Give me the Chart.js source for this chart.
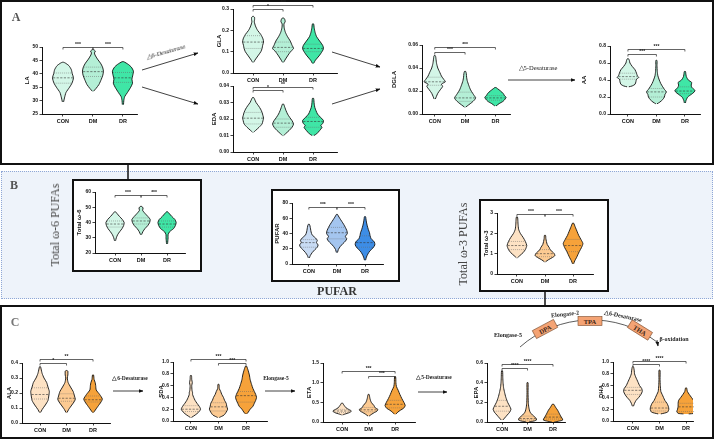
<!DOCTYPE html>
<html>
<head>
<meta charset="utf-8">
<script src="https://cdn.jsdelivr.net/npm/chart.js@4.4.1/dist/chart.umd.min.js"></script>
<style>
body { margin: 0; background: #fff; }
#fig { position: relative; width: 714px; height: 440px; overflow: hidden; font-family: 'Liberation Serif', serif; }
.box { position: absolute; box-sizing: border-box; }
.t { position: absolute; white-space: nowrap; line-height: 1; transform-origin: center; }
.cv { position: absolute; }
svg { position: absolute; left: 0; top: 0; }
</style>
</head>
<body>
<div id="fig">
  <div class="box" style="left:0;top:0;width:714px;height:165px;border:2px solid #111;"></div>
  <div class="box" style="left:1px;top:171px;width:712px;height:128px;border:1px dotted #8fa7d6;background:#eef3fa;"></div>
  <div class="box" style="left:0;top:305px;width:714px;height:134px;border:2px solid #111;"></div>
  <div class="box" style="left:72px;top:179px;width:130px;height:93px;border:2px solid #111;background:#fff;"></div>
  <div class="box" style="left:271px;top:189px;width:129px;height:93px;border:2px solid #111;background:#fff;"></div>
  <div class="box" style="left:479px;top:199px;width:130px;height:93px;border:2px solid #111;background:#fff;"></div>
</div>
<script>
const groups = ['CON', 'DM', 'DR'];

// violin outlines: [value, half width in category units]
const laCon = [[29.5,0.02],[31,0.05],[33,0.1],[35,0.22],[36.5,0.3],[38.5,0.35],[40,0.31],[41.5,0.28],[43,0.2],[44,0.08],[44.3,0.02]];
const laDm = [[33.5,0.02],[34.5,0.1],[36,0.2],[38,0.28],[39.5,0.33],[41,0.35],[42.5,0.32],[44,0.25],[45.5,0.15],[47,0.07],[47.8,0.05],[48.5,0.08],[49,0.02]];
const laDr = [[28.5,0.02],[30,0.03],[31.5,0.06],[33,0.15],[35,0.26],[36.5,0.32],[38,0.3],[39.5,0.33],[41,0.35],[42.5,0.28],[43.5,0.18],[44.5,0.03]];
const laQ = [[36.5,38.5,40.3],[39,40.8,42.5],[36.8,38.5,40.5]];
const laSig = [[0,1,50,'***'],[1,2,50,'***']];
const laTicks = ['25','30','35','40','45','50'];

const glaCon = [[0.05,0.02],[0.06,0.06],[0.08,0.16],[0.1,0.26],[0.115,0.3],[0.13,0.32],[0.145,0.35],[0.16,0.33],[0.18,0.26],[0.2,0.15],[0.22,0.08],[0.24,0.04],[0.25,0.05],[0.26,0.05],[0.265,0.02]];
const glaDm = [[0.05,0.02],[0.06,0.06],[0.08,0.15],[0.1,0.25],[0.115,0.35],[0.13,0.3],[0.15,0.24],[0.17,0.15],[0.19,0.08],[0.21,0.04],[0.23,0.03],[0.24,0.07],[0.25,0.06],[0.258,0.02]];
const glaDr = [[0.045,0.02],[0.06,0.08],[0.08,0.2],[0.1,0.3],[0.115,0.35],[0.13,0.32],[0.15,0.22],[0.17,0.12],[0.19,0.07],[0.21,0.04],[0.23,0.02]];
const glaQ = [[0.115,0.145,0.175],[0.1,0.12,0.145],[0.1,0.115,0.135]];
const glaSig = [[0,1,0.298,'*'],[0,2,0.318,'***']];
const glaTicks = ['0.0','0.1','0.2','0.3'];

const edaCon = [[0.012,0.02],[0.013,0.08],[0.015,0.2],[0.017,0.3],[0.019,0.33],[0.0205,0.35],[0.022,0.33],[0.024,0.3],[0.026,0.25],[0.028,0.18],[0.03,0.1],[0.032,0.05],[0.033,0.02]];
const edaDm = [[0.01,0.02],[0.011,0.08],[0.013,0.2],[0.015,0.3],[0.017,0.35],[0.019,0.3],[0.021,0.22],[0.023,0.15],[0.025,0.1],[0.027,0.06],[0.029,0.02]];
const edaDr = [[0.01,0.03],[0.011,0.12],[0.013,0.22],[0.015,0.3],[0.016,0.26],[0.0175,0.33],[0.019,0.35],[0.021,0.25],[0.023,0.15],[0.025,0.1],[0.027,0.06],[0.029,0.04],[0.031,0.03],[0.0325,0.02]];
const edaQ = [[0.017,0.0205,0.024],[0.015,0.0175,0.02],[0.015,0.0185,0.021]];
const edaSig = [[0,1,0.0375,'*'],[0,2,0.0392,'**']];
const edaTicks = ['0.00','0.01','0.02','0.03','0.04'];

const dglaCon = [[0.013,0.02],[0.015,0.05],[0.018,0.1],[0.021,0.18],[0.024,0.26],[0.026,0.22],[0.028,0.35],[0.03,0.3],[0.033,0.22],[0.036,0.17],[0.04,0.1],[0.044,0.06],[0.048,0.04],[0.05,0.03],[0.051,0.01]];
const dglaDm = [[0.006,0.02],[0.008,0.12],[0.01,0.22],[0.012,0.3],[0.014,0.35],[0.016,0.3],[0.018,0.25],[0.021,0.18],[0.025,0.12],[0.029,0.07],[0.032,0.05],[0.035,0.04],[0.037,0.02]];
const dglaDr = [[0.007,0.02],[0.009,0.12],[0.011,0.25],[0.013,0.32],[0.0145,0.35],[0.016,0.3],[0.018,0.25],[0.02,0.17],[0.022,0.07],[0.023,0.02]];
const dglaQ = [[0.025,0.028,0.032],[0.011,0.014,0.019],[0.012,0.014,0.016]];
const dglaSig = [[0,1,0.054,'***'],[0,2,0.058,'***']];
const dglaTicks = ['0.00','0.02','0.04','0.06'];

const aaCon = [[0.32,0.03],[0.33,0.15],[0.35,0.25],[0.38,0.28],[0.41,0.3],[0.43,0.38],[0.45,0.33],[0.48,0.3],[0.52,0.25],[0.56,0.15],[0.6,0.07],[0.63,0.05],[0.65,0.02]];
const aaDm = [[0.12,0.02],[0.14,0.12],[0.17,0.22],[0.2,0.28],[0.23,0.3],[0.26,0.35],[0.29,0.28],[0.32,0.22],[0.36,0.15],[0.4,0.1],[0.45,0.05],[0.5,0.03],[0.57,0.02],[0.63,0.02]];
const aaDr = [[0.13,0.02],[0.16,0.04],[0.2,0.1],[0.23,0.22],[0.26,0.33],[0.28,0.35],[0.31,0.25],[0.34,0.22],[0.37,0.24],[0.4,0.12],[0.44,0.05],[0.48,0.03],[0.5,0.02]];
const aaQ = [[0.41,0.44,0.48],[0.2,0.26,0.3],[0.24,0.27,0.32]];
const aaSig = [[0,1,0.71,'***'],[0,2,0.76,'***']];
const aaTicks = ['0.0','0.2','0.4','0.6','0.8'];

const n6Con = [[28,0.02],[30,0.05],[32,0.1],[34,0.18],[36,0.27],[38,0.33],[40,0.35],[42,0.28],[44,0.17],[46,0.07],[47,0.02]];
const n6Dm = [[32,0.02],[34,0.07],[36,0.15],[38,0.26],[40,0.33],[42,0.35],[44,0.26],[46,0.15],[48,0.06],[49.5,0.08],[50.5,0.03]];
const n6Dr = [[26,0.02],[28,0.03],[30,0.04],[32,0.04],[34,0.1],[36,0.25],[38,0.32],[40,0.35],[42,0.3],[44,0.18],[46,0.08],[47,0.02]];
const n6Q = [[37,39,41],[39,41,43],[37,39,41]];
const n6Sig = [[0,1,58,'***'],[1,2,58,'***']];
const n6Ticks = ['20','30','40','50','60'];

const pufCon = [[8,0.02],[11,0.05],[15,0.12],[19,0.22],[22,0.3],[25,0.33],[28,0.27],[31,0.3],[34,0.24],[38,0.12],[42,0.08],[46,0.06],[50,0.04],[52,0.02]];
const pufDm = [[15,0.02],[19,0.05],[23,0.12],[27,0.22],[30,0.3],[33,0.35],[36,0.3],[40,0.37],[44,0.35],[48,0.3],[52,0.24],[56,0.17],[60,0.1],[63,0.05],[65,0.02]];
const pufDr = [[5,0.02],[9,0.05],[13,0.1],[17,0.17],[21,0.28],[25,0.35],[29,0.33],[33,0.22],[37,0.18],[41,0.16],[45,0.12],[50,0.08],[55,0.05],[60,0.03],[62,0.02]];
const pufQ = [[22,28,32],[33,41,48],[22,28,37]];
const pufSig = [[0,1,75,'***'],[1,2,75,'***']];
const pufTicks = ['0','20','40','60','80'];

const n3Con = [[0.8,0.02],[0.9,0.1],[1.05,0.22],[1.2,0.3],[1.4,0.35],[1.6,0.3],[1.8,0.22],[2.0,0.12],[2.2,0.06],[2.45,0.04],[2.7,0.03],[2.8,0.02]];
const n3Dm = [[0.6,0.02],[0.7,0.12],[0.8,0.25],[0.9,0.35],[1.0,0.33],[1.1,0.26],[1.2,0.18],[1.3,0.15],[1.45,0.08],[1.6,0.05],[1.75,0.03],[1.9,0.02]];
const n3Dr = [[0.5,0.02],[0.65,0.06],[0.8,0.12],[0.95,0.17],[1.1,0.22],[1.3,0.3],[1.5,0.35],[1.7,0.28],[1.9,0.2],[2.1,0.14],[2.3,0.08],[2.5,0.02]];
const n3Q = [[1.2,1.4,1.6],[0.85,1.0,1.2],[1.1,1.4,1.7]];
const n3Sig = [[0,1,2.95,'***'],[1,2,2.95,'***']];
const n3Ticks = ['0','1','2','3'];

const alaCon = [[0.07,0.02],[0.09,0.08],[0.12,0.2],[0.15,0.3],[0.18,0.33],[0.21,0.35],[0.24,0.3],[0.27,0.25],[0.3,0.15],[0.33,0.08],[0.36,0.04],[0.375,0.02]];
const alaDm = [[0.07,0.02],[0.09,0.08],[0.12,0.2],[0.145,0.3],[0.16,0.33],[0.18,0.3],[0.21,0.25],[0.24,0.15],[0.27,0.06],[0.3,0.03],[0.32,0.05],[0.345,0.05],[0.35,0.02]];
const alaDr = [[0.07,0.02],[0.08,0.06],[0.11,0.18],[0.14,0.3],[0.16,0.35],[0.19,0.25],[0.22,0.12],[0.25,0.1],[0.27,0.08],[0.29,0.04],[0.32,0.02]];
const alaQ = [[0.16,0.19,0.235],[0.145,0.165,0.195],[0.14,0.155,0.18]];
const alaSig = [[0,1,0.4,'*'],[0,2,0.43,'**']];
const alaTicks = ['0.0','0.1','0.2','0.3','0.4'];

const sdaCon = [[0.06,0.02],[0.1,0.15],[0.15,0.28],[0.2,0.35],[0.25,0.3],[0.3,0.22],[0.35,0.15],[0.4,0.1],[0.45,0.06],[0.48,0.06],[0.52,0.04],[0.6,0.03],[0.65,0.05],[0.7,0.03],[0.77,0.02]];
const sdaDm = [[0.06,0.03],[0.1,0.2],[0.15,0.28],[0.2,0.33],[0.25,0.3],[0.3,0.28],[0.35,0.22],[0.4,0.18],[0.45,0.12],[0.5,0.08],[0.55,0.03],[0.62,0.02]];
const sdaDr = [[0.12,0.02],[0.15,0.08],[0.2,0.15],[0.25,0.25],[0.3,0.3],[0.35,0.35],[0.4,0.38],[0.45,0.35],[0.5,0.3],[0.55,0.25],[0.62,0.2],[0.7,0.15],[0.78,0.12],[0.85,0.08],[0.93,0.02]];
const sdaQ = [[0.16,0.2,0.26],[0.17,0.24,0.31],[0.32,0.43,0.5]];
const sdaSig = [[0,2,1.05,'***'],[1,2,0.98,'***']];
const sdaTicks = ['0.0','0.2','0.4','0.6','0.8','1.0'];

const etaCon = [[0.18,0.02],[0.2,0.1],[0.24,0.28],[0.28,0.35],[0.32,0.25],[0.36,0.15],[0.42,0.08],[0.46,0.04],[0.48,0.02]];
const etaDm = [[0.15,0.02],[0.2,0.12],[0.24,0.22],[0.28,0.32],[0.32,0.35],[0.36,0.25],[0.42,0.2],[0.5,0.1],[0.6,0.05],[0.7,0.02]];
const etaDr = [[0.2,0.03],[0.25,0.1],[0.3,0.2],[0.35,0.32],[0.42,0.38],[0.5,0.33],[0.6,0.25],[0.7,0.18],[0.8,0.12],[0.9,0.05],[1.0,0.03],[1.15,0.02]];
const etaQ = [[0.24,0.28,0.32],[0.26,0.31,0.37],[0.36,0.45,0.55]];
const etaSig = [[0,2,1.3,'***'],[1,2,1.18,'***']];
const etaTicks = ['0.0','0.5','1.0','1.5'];

const epaCon = [[0.02,0.03],[0.04,0.1],[0.07,0.2],[0.1,0.3],[0.13,0.35],[0.16,0.3],[0.2,0.22],[0.25,0.15],[0.3,0.1],[0.35,0.06],[0.4,0.04],[0.45,0.03],[0.52,0.02]];
const epaDm = [[0.0,0.05],[0.01,0.25],[0.02,0.35],[0.04,0.33],[0.07,0.2],[0.1,0.1],[0.15,0.05],[0.2,0.03],[0.3,0.02],[0.4,0.02]];
const epaDr = [[0.0,0.05],[0.01,0.25],[0.02,0.38],[0.04,0.35],[0.06,0.3],[0.08,0.26],[0.1,0.22],[0.12,0.18],[0.15,0.1],[0.18,0.03]];
const epaQ = [[0.11,0.16,0.22],[0.02,0.035,0.06],[0.03,0.05,0.08]];
const epaSig = [[0,1,0.55,'****'],[0,2,0.59,'****']];
const epaTicks = ['0.0','0.2','0.4','0.6'];

const dhaCon = [[0.25,0.02],[0.3,0.06],[0.35,0.12],[0.4,0.22],[0.45,0.3],[0.5,0.35],[0.55,0.33],[0.6,0.25],[0.65,0.2],[0.7,0.15],[0.75,0.1],[0.8,0.06],[0.85,0.05],[0.92,0.02]];
const dhaDm = [[0.12,0.05],[0.15,0.3],[0.2,0.35],[0.25,0.33],[0.3,0.28],[0.35,0.2],[0.4,0.15],[0.45,0.1],[0.5,0.05],[0.6,0.03],[0.7,0.02],[0.86,0.02]];
const dhaDr = [[0.12,0.1],[0.13,0.3],[0.16,0.35],[0.2,0.32],[0.25,0.3],[0.3,0.3],[0.35,0.28],[0.4,0.2],[0.45,0.12],[0.5,0.05],[0.56,0.02]];
const dhaQ = [[0.45,0.52,0.57],[0.17,0.22,0.32],[0.16,0.24,0.3]];
const dhaSig = [[0,1,0.97,'****'],[0,2,1.02,'****']];
const dhaTicks = ['0.0','0.2','0.4','0.6','0.8','1.0'];

const green = ['#d3f6e7', '#b4efd6', '#3fe6a6'];
const blue = ['#c8dbf4', '#a4c5ef', '#3d8de6'];
const orange = ['#fde2c4', '#fcca92', '#f6a23a'];

// where each plot sits on the page (axis corner, top tick, x-axis end)
const panels = [
  { title: 'LA', v: [laCon, laDm, laDr], q: laQ, sig: laSig, ticks: laTicks, pal: green, x: 42, top: 47, bottom: 114, right: 137, L: 18, xmin: -0.7, xmax: 2.47 },
  { title: 'GLA', v: [glaCon, glaDm, glaDr], q: glaQ, sig: glaSig, ticks: glaTicks, pal: green, x: 233, top: 9, bottom: 73, right: 337, L: 17, xmin: -0.67, xmax: 2.8 },
  { title: 'EDA', v: [edaCon, edaDm, edaDr], q: edaQ, sig: edaSig, ticks: edaTicks, pal: green, x: 233, top: 86, bottom: 152, right: 337, L: 22, xmin: -0.67, xmax: 2.8 },
  { title: 'DGLA', v: [dglaCon, dglaDm, dglaDr], q: dglaQ, sig: dglaSig, ticks: dglaTicks, pal: green, x: 422, top: 45, bottom: 114, right: 510, L: 31, xmin: -0.42, xmax: 2.48 },
  { title: 'AA', v: [aaCon, aaDm, aaDr], q: aaQ, sig: aaSig, ticks: aaTicks, pal: green, x: 610, top: 46, bottom: 114, right: 700, L: 29, xmin: -0.63, xmax: 2.53 },
  { title: 'Total ω-6', v: [n6Con, n6Dm, n6Dr], q: n6Q, sig: n6Sig, ticks: n6Ticks, pal: green, x: 95, top: 192, bottom: 253, right: 185, L: 19, xmin: -0.77, xmax: 2.69 },
  { title: 'PUFAR', v: [pufCon, pufDm, pufDr], q: pufQ, sig: pufSig, ticks: pufTicks, pal: blue, x: 292, top: 203, bottom: 264, right: 383, L: 18, xmin: -0.6, xmax: 2.64 },
  { title: 'Total ω-3', v: [n3Con, n3Dm, n3Dr], q: n3Q, sig: n3Sig, ticks: n3Ticks, pal: orange, x: 497, top: 213, bottom: 274, right: 593, L: 14, xmin: -0.71, xmax: 2.71 },
  { title: 'ALA', v: [alaCon, alaDm, alaDr], q: alaQ, sig: alaSig, ticks: alaTicks, pal: orange, x: 22, top: 363, bottom: 423, right: 110, L: 16, xmin: -0.68, xmax: 2.64 },
  { title: 'SDA', v: [sdaCon, sdaDm, sdaDr], q: sdaQ, sig: sdaSig, ticks: sdaTicks, pal: orange, x: 173, top: 362, bottom: 421, right: 267, L: 15, xmin: -0.65, xmax: 2.76 },
  { title: 'ETA', v: [etaCon, etaDm, etaDr], q: etaQ, sig: etaSig, ticks: etaTicks, pal: orange, x: 323, top: 363, bottom: 422, right: 415, L: 17, xmin: -0.72, xmax: 2.75 },
  { title: 'EPA', v: [epaCon, epaDm, epaDr], q: epaQ, sig: epaSig, ticks: epaTicks, pal: orange, x: 487, top: 363, bottom: 422, right: 565, L: 14, xmin: -0.59, xmax: 2.47 },
  { title: 'DHA', v: [dhaCon, dhaDm, dhaDr], q: dhaQ, sig: dhaSig, ticks: dhaTicks, pal: orange, x: 613, top: 362, bottom: 421, right: 693, L: 15, xmin: -0.75, xmax: 2.26 }
];

const fig = document.getElementById('fig');
const sans = "'Liberation Sans', Arial, sans-serif";

function outline(pairs, c) {
  const right = pairs.map(([y, w]) => ({ x: c + w, y }));
  const left = pairs.slice().reverse().map(([y, w]) => ({ x: c - w, y }));
  return right.concat(left);
}

function halfWidthAt(pairs, y) {
  if (y <= pairs[0][0]) return pairs[0][1];
  for (let k = 1; k < pairs.length; k++) {
    if (y <= pairs[k][0]) {
      const [y0, w0] = pairs[k - 1], [y1, w1] = pairs[k];
      return w0 + (w1 - w0) * (y - y0) / (y1 - y0);
    }
  }
  return pairs[pairs.length - 1][1];
}

function violinChart(p) {
  const T = 12, R = 4, B = 12;
  const w = p.right - p.x + p.L + R;
  const h = p.bottom - p.top + T + B;
  const canvas = document.createElement('canvas');
  canvas.className = 'cv';
  canvas.width = w;
  canvas.height = h;
  canvas.style.left = (p.x - p.L) + 'px';
  canvas.style.top = (p.top - T) + 'px';
  canvas.style.width = w + 'px';
  canvas.style.height = h + 'px';
  fig.appendChild(canvas);

  const extras = {
    id: 'violinExtras',
    afterDatasetsDraw(chart) {
      const ctx = chart.ctx, xs = chart.scales.x, ys = chart.scales.y;
      ctx.save();
      // median (dashed) and quartiles (dotted)
      p.q.forEach((qs, i) => {
        qs.forEach((v, j) => {
          const hw = halfWidthAt(p.v[i], v) * 0.95;
          const py = ys.getPixelForValue(v);
          ctx.beginPath();
          ctx.setLineDash(j === 1 ? [2.2, 1.4] : [0.8, 1.2]);
          ctx.strokeStyle = j === 1 ? '#333' : '#666';
          ctx.lineWidth = 0.6;
          ctx.moveTo(xs.getPixelForValue(i - hw), py);
          ctx.lineTo(xs.getPixelForValue(i + hw), py);
          ctx.stroke();
        });
      });
      ctx.setLineDash([]);
      // significance brackets
      p.sig.forEach(([a, b, v, s]) => {
        const py = Math.round(ys.getPixelForValue(v)) + 0.5;
        const x1 = xs.getPixelForValue(a), x2 = xs.getPixelForValue(b);
        ctx.strokeStyle = '#222';
        ctx.lineWidth = 0.7;
        ctx.beginPath();
        ctx.moveTo(x1, py + 2);
        ctx.lineTo(x1, py);
        ctx.lineTo(x2, py);
        ctx.lineTo(x2, py + 2);
        ctx.stroke();
        ctx.fillStyle = '#222';
        ctx.font = 'bold 5px ' + sans;
        ctx.textAlign = 'center';
        ctx.textBaseline = 'bottom';
        ctx.fillText(s, (x1 + x2) / 2, py - 0.3);
      });
      ctx.restore();
    }
  };

  new Chart(canvas, {
    type: 'line',
    data: {
      datasets: p.v.map((pairs, i) => ({
        data: outline(pairs, i),
        borderColor: '#111',
        borderWidth: 0.9,
        backgroundColor: p.pal[i],
        fill: 'shape',
        tension: 0.22,
        pointRadius: 0
      }))
    },
    options: {
      responsive: false,
      animation: false,
      events: [],
      layout: { padding: { top: T, right: R, left: 0, bottom: 0 } },
      plugins: { legend: { display: false }, tooltip: { enabled: false } },
      scales: {
        x: {
          type: 'linear',
          min: p.xmin,
          max: p.xmax,
          afterBuildTicks: s => { s.ticks = [0, 1, 2].map(v => ({ value: v })); },
          afterFit: s => { s.height = B; },
          grid: { drawOnChartArea: false, drawTicks: true, tickLength: 2.5, color: '#111', lineWidth: 0.8 },
          border: { display: true, color: '#111', width: 1 },
          ticks: {
            autoSkip: false, maxRotation: 0, padding: 1.5, color: '#111',
            font: { family: sans, size: 5.5, weight: 'bold' },
            callback: v => groups[Math.round(v)]
          }
        },
        y: {
          min: parseFloat(p.ticks[0]),
          max: parseFloat(p.ticks[p.ticks.length - 1]),
          afterBuildTicks: s => { s.ticks = p.ticks.map(t => ({ value: parseFloat(t) })); },
          afterFit: s => { s.width = p.L; },
          grid: { drawOnChartArea: false, drawTicks: true, tickLength: 2.5, color: '#111', lineWidth: 0.8 },
          border: { display: true, color: '#111', width: 1 },
          title: { display: true, text: p.title, padding: 0, color: '#111', font: { family: sans, size: 6, weight: 'bold' } },
          ticks: {
            autoSkip: false, padding: 1.5, color: '#111',
            font: { family: sans, size: 5, weight: 'bold' },
            callback: (v, i) => p.ticks[i]
          }
        }
      }
    },
    plugins: [extras]
  });
}

panels.forEach(violinChart);

// arrows, connectors and the elongation arc
const svgNS = 'http://www.w3.org/2000/svg';
fig.insertAdjacentHTML('beforeend', `
<svg width="714" height="440" xmlns="${svgNS}">
  <defs>
    <marker id="ah" viewBox="0 0 10 10" refX="9" refY="5" markerWidth="6" markerHeight="6" orient="auto">
      <path d="M0,1 L10,5 L0,9 z" fill="#111"/>
    </marker>
  </defs>
  <g stroke="#111" stroke-width="0.8" fill="none">
    <line x1="142" y1="70" x2="198" y2="53" marker-end="url(#ah)"/>
    <line x1="142" y1="87" x2="198" y2="104" marker-end="url(#ah)"/>
    <line x1="332" y1="52" x2="380" y2="67" marker-end="url(#ah)"/>
    <line x1="332" y1="104" x2="380" y2="89" marker-end="url(#ah)"/>
    <line x1="508" y1="80" x2="575" y2="80" marker-end="url(#ah)"/>
    <line x1="113" y1="391" x2="143" y2="391" marker-end="url(#ah)"/>
    <line x1="265" y1="391" x2="295" y2="391" marker-end="url(#ah)"/>
    <line x1="418" y1="392" x2="447" y2="392" marker-end="url(#ah)"/>
    <path d="M520 347 A108 108 0 0 1 657 342" stroke="#333"/>
    <line x1="657" y1="340" x2="658" y2="346" marker-end="url(#ah)"/>
  </g>
  <g stroke="#111" stroke-width="1.5">
    <line x1="128" y1="164" x2="128" y2="179"/>
    <line x1="545" y1="291" x2="545" y2="306"/>
  </g>
  <g font-family="'Liberation Serif', serif" font-weight="bold" font-size="6.5" fill="#3a2414" text-anchor="middle" dominant-baseline="central">
    <g transform="translate(545 329) rotate(-28)">
      <rect x="-12" y="-4.5" width="24" height="9" fill="#f4a374" stroke="#7a4a2a" stroke-width="0.6"/>
      <text x="0" y="0.3">DPA</text>
    </g>
    <g transform="translate(590 321)">
      <rect x="-12" y="-4.5" width="24" height="9" fill="#f4a374" stroke="#7a4a2a" stroke-width="0.6"/>
      <text x="0" y="0.3">TPA</text>
    </g>
    <g transform="translate(640 330) rotate(32)">
      <rect x="-12" y="-4.5" width="24" height="9" fill="#f4a374" stroke="#7a4a2a" stroke-width="0.6"/>
      <text x="0" y="0.3">THA</text>
    </g>
  </g>
</svg>`);

function label(text, cx, cy, css, rot) {
  const d = document.createElement('div');
  d.className = 't';
  d.textContent = text;
  d.style.cssText += css;
  d.style.left = cx + 'px';
  d.style.top = cy + 'px';
  d.style.transform = 'translate(-50%,-50%) rotate(' + (rot || 0) + 'deg)';
  fig.appendChild(d);
}

label('A', 16, 17, 'font-size:12px;font-weight:bold;color:#555;');
label('B', 14, 185, 'font-size:12px;font-weight:bold;color:#555;');
label('C', 15, 322, 'font-size:12px;font-weight:bold;color:#777;');
label('Total ω-6 PUFAs', 55, 225, 'font-size:12px;color:#444;', -90);
label('Total ω-3 PUFAs', 463, 244, 'font-size:12px;color:#444;', -90);
label('PUFAR', 337, 291, 'font-size:12px;font-weight:bold;color:#333;');
label('△6-Desaturase', 166, 52, 'font-size:6.5px;font-style:italic;color:#222;', -16);
label('△5-Desaturase', 538, 68, 'font-size:6.5px;color:#222;');
label('△6-Desaturase', 130, 379, 'font-size:5.5px;font-weight:bold;color:#222;');
label('Elongase-5', 276, 379, 'font-size:5.5px;font-weight:bold;color:#222;');
label('△5-Desaturase', 434, 378, 'font-size:5.5px;font-weight:bold;color:#222;');
label('Elongase-5', 508, 335, 'font-size:6px;font-weight:bold;color:#222;');
label('Elongase-2', 565, 314, 'font-size:6px;font-weight:bold;color:#222;', -6);
label('△6-Desaturase', 623, 316, 'font-size:6px;font-weight:bold;color:#222;', 12);
label('β-oxidation', 674, 339, 'font-size:6px;font-weight:bold;color:#222;');
</script>
</body>
</html>
